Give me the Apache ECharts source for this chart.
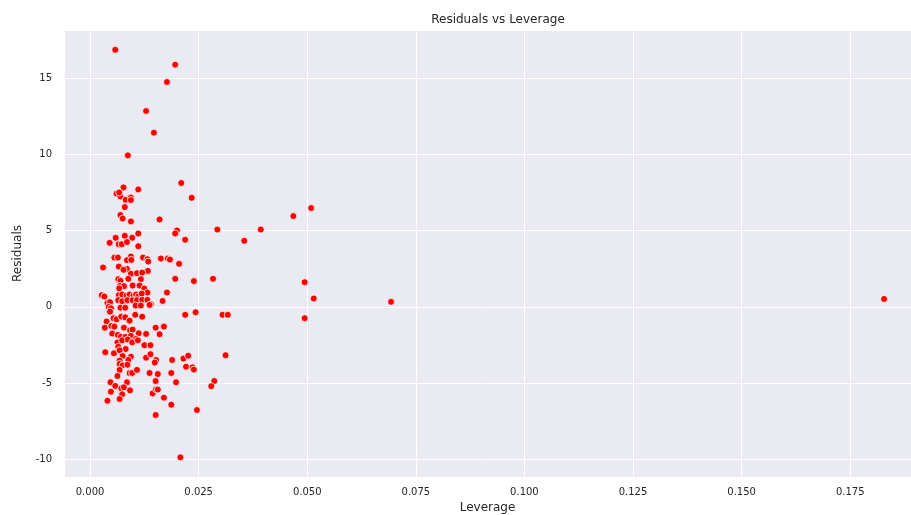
<!DOCTYPE html>
<html>
<head>
<meta charset="utf-8">
<script src="https://cdn.jsdelivr.net/npm/echarts@6/dist/echarts.min.js"></script>
<style>
  html, body { margin: 0; padding: 0; background: #fff; }
  #chart { width: 911px; height: 515px; }
</style>
</head>
<body>
<div id="chart"></div>
<script>
// leverage (x) and residuals (y)
const leverage = [
  0.0058, 0.0196, 0.0177, 0.0129, 0.0147, 0.0087, 0.0210, 0.0077, 0.0061, 0.0070,
  0.0067, 0.0111, 0.0234, 0.0082, 0.0094, 0.0094, 0.0080, 0.0070, 0.0075, 0.0094,
  0.0160, 0.0200, 0.0196, 0.0293, 0.0219, 0.0111, 0.0080, 0.0059, 0.0097, 0.0045,
  0.0066, 0.0073, 0.0085, 0.0111, 0.0056, 0.0064, 0.0094, 0.0085, 0.0095, 0.0122,
  0.0132, 0.0134, 0.0163, 0.0179, 0.0184, 0.0205, 0.0030, 0.0066, 0.0085, 0.0077,
  0.0133, 0.0094, 0.0108, 0.0120, 0.0065, 0.0070, 0.0088, 0.0117, 0.0196, 0.0239,
  0.0283, 0.0069, 0.0078, 0.0098, 0.0114, 0.0125, 0.0067, 0.0132, 0.0177, 0.0027,
  0.0033, 0.0066, 0.0074, 0.0084, 0.0091, 0.0100, 0.0106, 0.0111, 0.0119, 0.0040,
  0.0046, 0.0065, 0.0074, 0.0086, 0.0098, 0.0108, 0.0120, 0.0132, 0.0140, 0.0137,
  0.0167, 0.0043, 0.0048, 0.0046, 0.0070, 0.0081, 0.0105, 0.0117, 0.0219, 0.0243,
  0.0305, 0.0317, 0.0038, 0.0054, 0.0061, 0.0072, 0.0081, 0.0091, 0.0104, 0.0120,
  0.0034, 0.0049, 0.0056, 0.0078, 0.0092, 0.0098, 0.0112, 0.0129, 0.0151, 0.0170,
  0.0160, 0.0051, 0.0064, 0.0071, 0.0081, 0.0094, 0.0106, 0.0063, 0.0074, 0.0087,
  0.0065, 0.0082, 0.0097, 0.0110, 0.0125, 0.0139, 0.0035, 0.0055, 0.0068, 0.0075,
  0.0094, 0.0129, 0.0139, 0.0152, 0.0189, 0.0215, 0.0226, 0.0312, 0.0068, 0.0088,
  0.0149, 0.0221, 0.0236, 0.0239, 0.0068, 0.0075, 0.0086, 0.0068, 0.0091, 0.0097,
  0.0108, 0.0137, 0.0156, 0.0187, 0.0063, 0.0151, 0.0198, 0.0047, 0.0058, 0.0085,
  0.0072, 0.0078, 0.0092, 0.0048, 0.0074, 0.0068, 0.0040, 0.0144, 0.0152, 0.0156,
  0.0170, 0.0187, 0.0286, 0.0279, 0.0246, 0.0151, 0.0208, 0.0468, 0.0509, 0.0393,
  0.0355, 0.0494, 0.0515, 0.0494, 0.0693, 0.1828
];
const residuals = [
  16.85, 15.88, 14.74, 12.84, 11.42, 9.93, 8.12, 7.83, 7.43, 7.24,
  7.50, 7.70, 7.15, 7.02, 7.17, 7.00, 6.54, 6.02, 5.79, 5.60,
  5.73, 5.01, 4.81, 5.07, 4.40, 4.81, 4.66, 4.53, 4.53, 4.20,
  4.11, 4.11, 4.25, 3.98, 3.23, 3.23, 3.30, 3.06, 3.08, 3.23,
  3.13, 2.97, 3.17, 3.17, 3.10, 2.82, 2.58, 2.64, 2.49, 2.43,
  2.36, 2.17, 2.21, 2.25, 1.82, 1.71, 1.84, 1.82, 1.84, 1.69,
  1.84, 1.38, 1.36, 1.40, 1.40, 1.20, 1.22, 0.94, 0.94, 0.77,
  0.68, 0.77, 0.81, 0.74, 0.81, 0.74, 0.81, 0.68, 0.87, 0.26,
  0.31, 0.44, 0.37, 0.44, 0.44, 0.44, 0.46, 0.46, 0.18, 0.13,
  0.39, 0.00, -0.09, -0.31, -0.05, -0.05, 0.09, 0.09, -0.52, -0.35,
  -0.52, -0.52, -0.96, -0.74, -0.81, -0.64, -0.68, -0.90, -0.52, -0.64,
  -1.36, -1.25, -1.29, -1.36, -1.53, -1.49, -1.73, -1.77, -1.36, -1.29,
  -1.79, -1.75, -1.84, -1.95, -1.97, -1.90, -2.10, -2.34, -2.19, -2.14,
  -2.62, -2.76, -2.32, -2.19, -2.51, -2.51, -2.97, -3.04, -2.84, -3.22,
  -3.26, -3.33, -3.10, -3.48, -3.48, -3.39, -3.20, -3.17, -3.52, -3.48,
  -3.65, -3.92, -3.96, -4.11, -3.74, -3.83, -3.79, -4.13, -4.33, -4.33,
  -4.13, -4.33, -4.40, -4.33, -4.53, -4.86, -4.94, -4.94, -5.18, -4.94,
  -5.34, -5.27, -5.47, -5.56, -5.73, -6.04, -6.15, -5.67, -5.40, -5.42,
  -5.95, -6.41, -4.86, -5.20, -6.76, -7.09, -9.86, 5.95, 6.48, 5.07,
  4.33, 1.62, 0.55, -0.74, 0.33, 0.52
];

const points = leverage.map((x, i) => [x, residuals[i]]);

const chart = echarts.init(document.getElementById('chart'), null, { renderer: 'canvas' });

const textColor = '#262626';
const font = 'DejaVu Sans';

const option = {
  animation: false,
  backgroundColor: '#ffffff',
  title: {
    text: 'Residuals vs Leverage',
    left: 493,
    top: 9,
    textAlign: 'center',
    textStyle: {
      color: textColor,
      fontFamily: font,
      fontSize: 12,
      fontWeight: 'normal'
    }
  },
  grid: {
    left: 64,
    right: 0,
    top: 30,
    bottom: 38,
    outerBoundsMode: 'none',
    show: true,
    backgroundColor: '#EAEAF2',
    borderWidth: 0
  },
  xAxis: {
    type: 'value',
    min: -0.006,
    max: 0.189,
    minInterval: 0.025,
    maxInterval: 0.025,
    name: 'Leverage',
    nameLocation: 'middle',
    nameGap: 25,
    nameTextStyle: { color: textColor, fontFamily: font, fontSize: 12 },
    axisLine: { show: false },
    axisTick: { show: false },
    axisLabel: {
      color: textColor,
      fontFamily: font,
      fontSize: 10,
      margin: 10,
      showMinLabel: false,
      showMaxLabel: false,
      formatter: v => (Math.abs(v) < 1e-9 ? 0 : v).toFixed(3)
    },
    splitLine: { show: true, lineStyle: { color: '#ffffff', width: 1 } }
  },
  yAxis: {
    type: 'value',
    min: -11.15,
    max: 18.15,
    minInterval: 5,
    maxInterval: 5,
    name: 'Residuals',
    nameLocation: 'middle',
    nameGap: 40,
    nameTextStyle: { color: textColor, fontFamily: font, fontSize: 12 },
    axisLine: { show: false },
    axisTick: { show: false },
    axisLabel: {
      color: textColor,
      fontFamily: font,
      fontSize: 10,
      margin: 12,
      showMinLabel: false,
      showMaxLabel: false,
      formatter: v => String(Math.round(v))
    },
    splitLine: { show: true, lineStyle: { color: '#ffffff', width: 1 } }
  },
  series: [
    {
      type: 'scatter',
      data: points,
      symbol: 'circle',
      symbolSize: 7,
      itemStyle: {
        color: '#ff0000',
        borderColor: '#ffffff',
        borderWidth: 0.8,
        opacity: 1
      }
    }
  ]
};

chart.setOption(option);
</script>
</body>
</html>
